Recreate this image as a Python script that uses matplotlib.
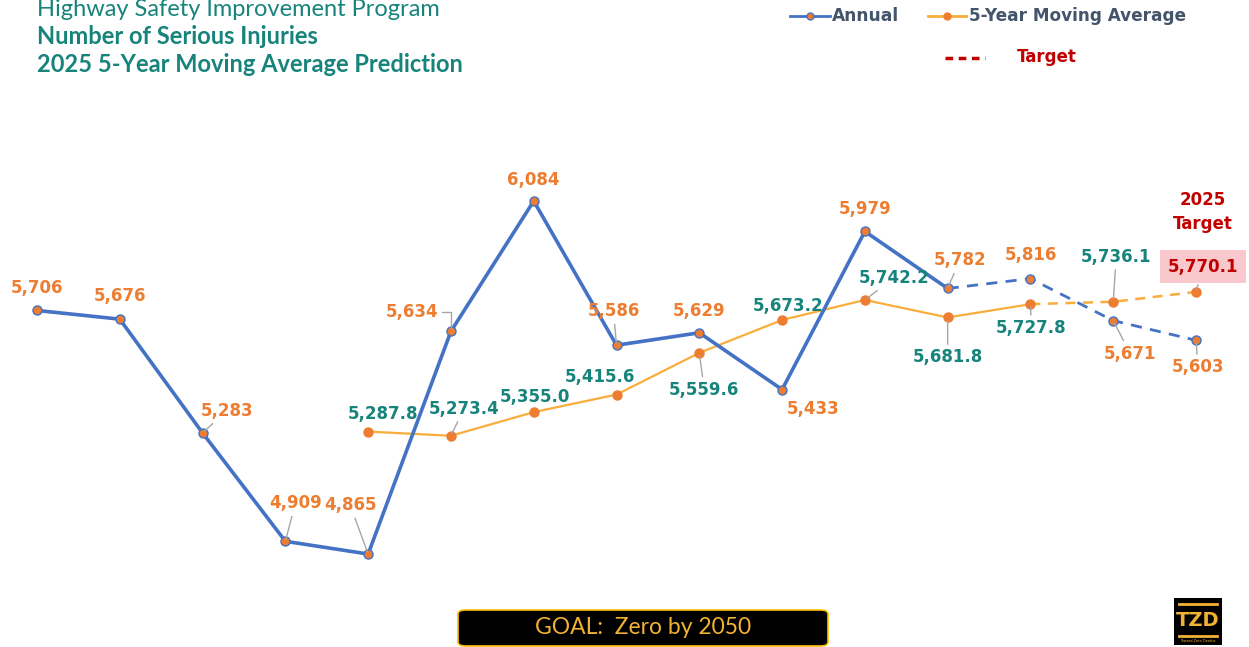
import matplotlib
matplotlib.use("Agg")
import matplotlib.pyplot as plt
from matplotlib.patches import FancyBboxPatch, Rectangle
from matplotlib.lines import Line2D

# data (2011-2025)
years = list(range(2011, 2026))
annual = [5706, 5676, 5283, 4909, 4865, 5634, 6084, 5586, 5629, 5433, 5979, 5782, 5816, 5671, 5603]
ma_years = list(range(2015, 2026))
moving_avg = [5287.8, 5273.4, 5355.0, 5415.6, 5559.6, 5673.2, 5742.2, 5681.8, 5727.8, 5736.1, 5770.1]
last_actual = 2022      # annual solid up to here, dashed after
last_actual_ma = 2023   # moving average solid up to here

# label offsets in pixels (dx, dy) and whether a leader line is drawn
annual_off = [(0, 22, 0), (0, 23, 0), (24, 22, 1), (10, 38, 1), (-18, 49, 1),
              (-39, 19, 2), (0, 21, 0), (-3, 34, 1), (0, 22, 0), (31, -19, 0),
              (0, 22, 0), (12, 28, 1), (0, 24, 0), (17, -33, 1), (2, -27, 1)]
ma_off = [(15, 18, 0), (13, 27, 1), (1, 15, 0), (-17, 18, 0), (5, -37, 1),
          (6, 14, 0), (29, 22, 1), (0, -40, 1), (1, -24, 1), (3, 45, 1), (7, 25, 1)]

BLUE = "#4472C4"
ORANGE = "#ED7D31"
GOLD = "#F9AE3C"
TEAL = "#17847C"
RED = "#C00000"
LEADER = "#A6A6A6"

fig = plt.figure(figsize=(12.49, 6.47), dpi=100)
ax = fig.add_axes([0, 0, 1, 1])
ax.set_xlim(2011 - 0.447, 2025 + 0.64)
ax.set_ylim(4544, 6778)
ax.axis("off")

ia = years.index(last_actual)
ax.plot(years[:ia + 1], annual[:ia + 1], color=BLUE, lw=2.6, zorder=3)
ax.plot(years[ia:], annual[ia:], color=BLUE, lw=2.0, ls=(0, (4, 3)), zorder=3)
ax.plot(years, annual, ls="none", marker="o", ms=6.5, mfc=ORANGE, mec=BLUE, mew=1.0, zorder=4)

im = ma_years.index(last_actual_ma)
ax.plot(ma_years[:im + 1], moving_avg[:im + 1], color=GOLD, lw=1.6, zorder=2)
ax.plot(ma_years[im:], moving_avg[im:], color=GOLD, lw=1.8, ls=(0, (4, 3)), zorder=2)
ax.plot(ma_years, moving_avg, ls="none", marker="o", ms=6.5, mfc=ORANGE, mec=ORANGE, zorder=4)


def put_label(x, y, off, text, color, box=None):
    dx, dy, lead = off
    kw = dict(textcoords="offset pixels", ha="center", va="center",
              fontsize=12, fontweight="bold", color=color, zorder=6,
              family="DejaVu Sans")
    if box:
        kw["bbox"] = box
    if lead == 1:
        kw["arrowprops"] = dict(arrowstyle="-", color=LEADER, lw=1.0,
                                shrinkA=1, shrinkB=2)
    elif lead == 2:
        kw["arrowprops"] = dict(arrowstyle="-", color=LEADER, lw=1.0,
                                shrinkA=1, shrinkB=2,
                                connectionstyle="angle,angleA=0,angleB=90,rad=0")
    ax.annotate(text, xy=(x, y), xytext=(dx, dy), **kw)


for yr, v, off in zip(years, annual, annual_off):
    put_label(yr, v, off, f"{v:,}", ORANGE)

for k, (yr, v, off) in enumerate(zip(ma_years, moving_avg, ma_off)):
    if k == len(ma_years) - 1:
        put_label(yr, v, off, f"{v:,.1f}", RED,
                  box=dict(boxstyle="square,pad=0.45", fc="#F8C8CC", ec="none"))
    else:
        put_label(yr, v, off, f"{v:,.1f}", TEAL)

ax.annotate("2025\nTarget", xy=(ma_years[-1], moving_avg[-1]), xytext=(7, 80),
            textcoords="offset pixels", ha="center", va="center", fontsize=12,
            fontweight="bold", color=RED, linespacing=1.45)

# titles
fig.text(37 / 1249, 1 - 10 / 647, "Highway Safety Improvement Program", family="Lato",
         fontsize=17, color=TEAL, va="center")
fig.text(37 / 1249, 1 - 37 / 647, "Number of Serious Injuries", family="Lato",
         fontsize=17, fontweight="bold", color=TEAL, va="center")
fig.text(37 / 1249, 1 - 64 / 647, "2025 5-Year Moving Average Prediction", family="Lato",
         fontsize=17, fontweight="bold", color=TEAL, va="center")

# legend drawn by hand
def fx(p):
    return p / 1249


def fy(p):
    return 1 - p / 647


fig.add_artist(Line2D([fx(790), fx(830)], [fy(16), fy(16)], color=BLUE, lw=2))
fig.add_artist(Line2D([fx(810)], [fy(16)], marker="o", ms=5, mfc=ORANGE, mec=BLUE))
fig.text(fx(832), fy(16), "Annual", fontsize=12.3, fontweight="bold", color="#44546A", va="center")
fig.add_artist(Line2D([fx(928), fx(966)], [fy(16), fy(16)], color=GOLD, lw=2))
fig.add_artist(Line2D([fx(947)], [fy(16)], marker="o", ms=5, mfc=ORANGE, mec=ORANGE))
fig.text(fx(969), fy(16), "5-Year Moving Average", fontsize=12.2, fontweight="bold",
         color="#44546A", va="center")
fig.add_artist(Line2D([fx(945), fx(985)], [fy(58), fy(58)], color=RED, lw=2.5, ls=(0, (2.2, 1.6))))
fig.text(fx(1017), fy(57), "Target", fontsize=12, fontweight="bold", color=RED, va="center")

# goal box
fig.add_artist(FancyBboxPatch((fx(458), fy(646)), fx(370), 36 / 647,
                              boxstyle="round,pad=0,rounding_size=0.006",
                              fc="black", ec="#FFC000", lw=1.2))
fig.text(fx(643), fy(628), "GOAL:  Zero by 2050", family="Lato", fontsize=16.5,
         color="#F2B234", ha="center", va="center")

# TZD logo
fig.add_artist(Rectangle((fx(1174), fy(645)), fx(48), 47 / 647, fc="black", ec="none"))
fig.add_artist(Line2D([fx(1179), fx(1217)], [fy(604), fy(604)], color="#F2B234", lw=2))
fig.add_artist(Line2D([fx(1179), fx(1217)], [fy(636), fy(636)], color="#F2B234", lw=2))
fig.text(fx(1198), fy(620), "TZD", fontsize=14, fontweight="bold", color="#F2B234",
         ha="center", va="center", family="Liberation Sans Narrow")
fig.text(fx(1198), fy(641), "Toward Zero Deaths", fontsize=2.5, color="#F2B234",
         ha="center", va="center")

fig.savefig("out.png", dpi=100)
